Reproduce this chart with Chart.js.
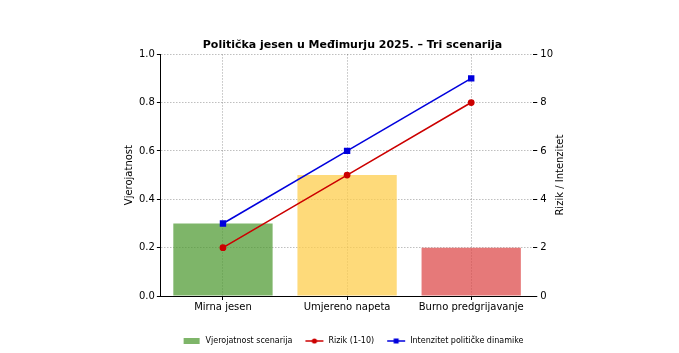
<!DOCTYPE html>
<html>
<head>
<meta charset="utf-8">
<script src="https://cdn.jsdelivr.net/npm/chart.js@4.4.0/dist/chart.umd.min.js"></script>
<style>
  html, body { margin: 0; padding: 0; background: #fff; }
  #wrap { width: 679px; height: 353px; }
</style>
</head>
<body>
<div id="wrap"><canvas id="scenariji"></canvas></div>
<script>
const scenariji = ['Mirna jesen', 'Umjereno napeta', 'Burno predgrijavanje'];
const vjerojatnost = [0.3, 0.5, 0.2];
const rizik = [2, 5, 8];
const intenzitet = [3, 6, 9];
const lijeviTickovi = [0, 0.2, 0.4, 0.6, 0.8, 1.0];
const desniTickovi = [0, 2, 4, 6, 8, 10];

const boje = ['rgba(76,153,47,0.72)', 'rgba(253,206,77,0.75)', 'rgba(219,64,64,0.7)'];
const desniNaslov = 'Rizik / Intenzitet';

Chart.defaults.font.family = 'DejaVu Sans';
Chart.defaults.color = '#000';

// slicice za legendu (crta s markerom, pravokutnik za stupce)
function ikona(tip, boja) {
    const c = document.createElement('canvas');
    c.width = 20; c.height = 8;
    const g = c.getContext('2d');
    if (tip === 'bar') {
        g.fillStyle = boja;
        g.fillRect(2, 1, 16, 6);
    } else {
        g.strokeStyle = boja; g.lineWidth = 1.5;
        g.beginPath(); g.moveTo(1, 4); g.lineTo(19, 4); g.stroke();
        g.fillStyle = boja;
        if (tip === 'krug') { g.beginPath(); g.arc(10, 4, 2.6, 0, Math.PI * 2); g.fill(); }
        else g.fillRect(7.5, 1.5, 5, 5);
    }
    return c;
}

const ctx = document.getElementById('scenariji').getContext('2d');
new Chart(ctx, {
    data: {
        labels: scenariji,
        datasets: [{
            type: 'bar',
            label: 'Vjerojatnost scenarija',
            data: vjerojatnost,
            backgroundColor: boje,
            barPercentage: 0.8,
            categoryPercentage: 1.0,
            yAxisID: 'y',
            order: 2
        }, {
            type: 'line',
            label: 'Rizik (1-10)',
            data: rizik,
            borderColor: '#cc0000',
            backgroundColor: '#cc0000',
            borderWidth: 1.6,
            pointRadius: 2.6,
            pointStyle: 'circle',
            yAxisID: 'y1',
            order: 1
        }, {
            type: 'line',
            label: 'Intenzitet političke dinamike',
            data: intenzitet,
            borderColor: '#0000dd',
            backgroundColor: '#0000dd',
            borderWidth: 1.6,
            pointRadius: 3.4,
            pointStyle: 'rect',
            yAxisID: 'y1',
            order: 0
        }]
    },
    options: {
        responsive: true,
        maintainAspectRatio: false,
        animation: false,
        layout: { padding: { left: 121, right: 95, top: 39, bottom: -2 } },
        plugins: {
            title: {
                display: true,
                text: 'Politička jesen u Međimurju 2025. – Tri scenarija',
                font: { size: 11, weight: 'bold' },
                padding: { top: 0, bottom: 2 }
            },
            legend: {
                position: 'bottom',
                labels: {
                    usePointStyle: true,
                    pointStyleWidth: 20,
                    font: { size: 8 },
                    padding: 12,
                    generateLabels: function(chart) {
                        const stilovi = [ikona('bar', boje[0]), ikona('krug', '#cc0000'), ikona('kvadrat', '#0000dd')];
                        return chart.data.datasets.map((ds, i) => ({
                            text: ds.label,
                            pointStyle: stilovi[i],
                            datasetIndex: i,
                            hidden: false,
                            lineWidth: 0
                        }));
                    }
                }
            },
            tooltip: { enabled: false }
        },
        scales: {
            x: {
                grid: { offset: false, color: 'rgba(0,0,0,0.25)', tickLength: 4, tickColor: '#000' },
                border: { display: true, color: '#000', width: 1, dash: [1.5, 1.5] },
                ticks: { font: { size: 10 }, padding: 1 },
                afterFit: scale => { scale.height += 11; }
            },
            y: {
                position: 'left',
                min: 0, max: 1,
                afterBuildTicks: axis => { axis.ticks = lijeviTickovi.map(v => ({ value: v })); },
                grid: { color: 'rgba(0,0,0,0.25)', tickColor: '#000', tickLength: 4 },
                border: { color: '#000', dash: [1.5, 1.5] },
                ticks: { font: { size: 10 }, padding: 2, callback: v => v.toFixed(1) },
                title: { display: true, text: 'Vjerojatnost', font: { size: 10 }, padding: 2 }
            },
            y1: {
                position: 'right',
                min: 0, max: 10,
                afterBuildTicks: axis => { axis.ticks = desniTickovi.map(v => ({ value: v })); },
                grid: { drawOnChartArea: false, tickColor: '#000', tickLength: 4 },
                border: { display: false },
                ticks: { font: { size: 10 }, padding: 3 },
                // mjesto se rezervira, a naslov se crta okrenut kao lijevi
                title: { display: true, text: desniNaslov, color: 'rgba(0,0,0,0)', font: { size: 10 }, padding: 8 }
            }
        }
    },
    plugins: [{
        id: 'desniNaslov',
        afterDraw(chart) {
            const c = chart.ctx;
            c.save();
            c.translate(chart.chartArea.right + 27, (chart.chartArea.top + chart.chartArea.bottom) / 2);
            c.rotate(-Math.PI / 2);
            c.font = '10px "DejaVu Sans"';
            c.fillStyle = '#000';
            c.textAlign = 'center';
            c.textBaseline = 'middle';
            c.fillText(desniNaslov, 0, 0);
            c.restore();
        }
    }]
});
</script>
</body>
</html>
